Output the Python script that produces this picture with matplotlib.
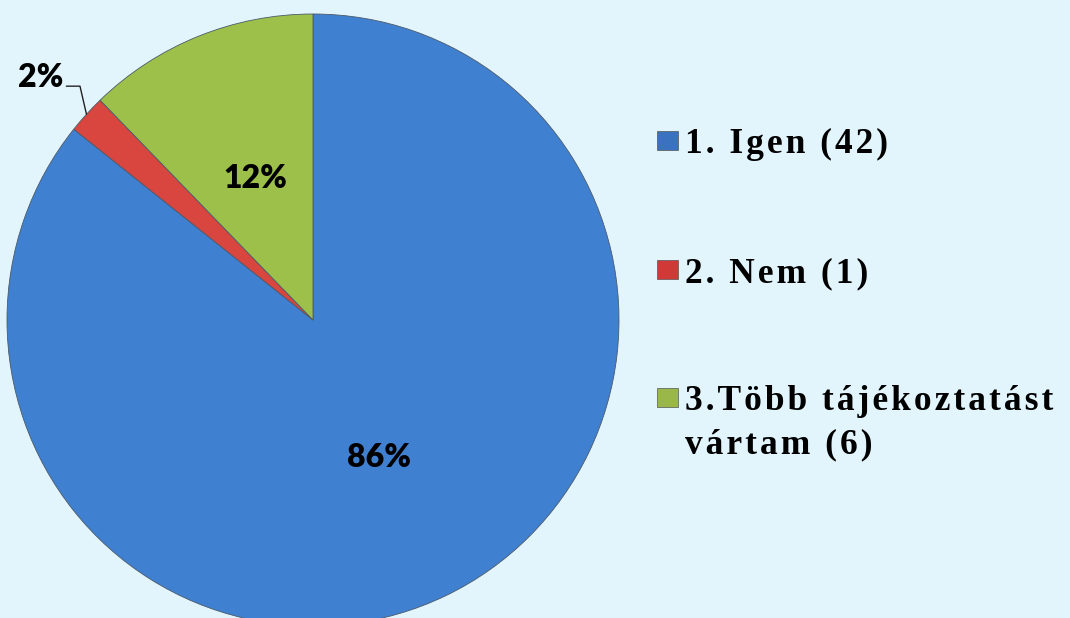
import matplotlib.pyplot as plt
import numpy as np
from matplotlib.patches import Rectangle

# data
labels = ['1. Igen (42)', '2. Nem (1)', '3.Több tájékoztatást\nvártam (6)']
counts = [42, 1, 6]
colors = ['#4080D0', '#D9453F', '#9DC04A']
legend_colors = ['#3A72C0', '#D03A36', '#9AB84A']
bg = '#E3F5FC'

W, H = 1070, 618
fig = plt.figure(figsize=(W / 100, H / 100), dpi=100, facecolor=bg)
ax = fig.add_axes([0, 0, 1, 1])
ax.set_facecolor(bg)

cx, cy, r = 313, H - 320, 306
pct_font = dict(fontsize=23, fontweight='heavy', family='Lato', color='black')
wedges, texts, autotexts = ax.pie(
    counts, colors=colors, startangle=90, counterclock=False,
    center=(cx, cy), radius=r, autopct='%1.0f%%', pctdistance=0.5,
    wedgeprops=dict(edgecolor='#4a5a6a', linewidth=0.6),
    textprops=pct_font)
ax.set_xlim(0, W)
ax.set_ylim(0, H)
ax.set_aspect('equal')
ax.axis('off')

# small slice: label outside with leader line
small = 1
autotexts[small].set_visible(False)
w = wedges[small]
mid = np.deg2rad((w.theta1 + w.theta2) / 2)
edge = (cx + r * np.cos(mid), cy + r * np.sin(mid))
ax.annotate(autotexts[small].get_text(), xy=edge, xytext=(-16.5, 26.5),
            textcoords='offset points', ha='right', va='center', **pct_font,
            arrowprops=dict(arrowstyle='-', color='#222222', lw=1,
                            shrinkA=0, shrinkB=0, relpos=(1.0, 0.2),
                            connectionstyle='angle,angleA=0,angleB=103,rad=0'))


def spaced(s):
    return '\u200a'.join(s)


# legend drawn by hand so the marker sits on the first line
leg_y = [140.5, 269.5, 397.5]
line_h = 43
for lab, col, yy in zip(labels, legend_colors, leg_y):
    ax.add_patch(Rectangle((657, H - yy - 9.5), 21, 19, facecolor=col,
                           edgecolor='#555555', linewidth=0.5))
    for i, line in enumerate(lab.split('\n')):
        ax.text(685, H - yy - 12.5 - i * line_h, spaced(line), ha='left',
                va='baseline', fontsize=25.5, fontweight='bold',
                family=['Liberation Serif', 'DejaVu Serif'], color='black')

fig.savefig('out.png', dpi=100, facecolor=bg)
